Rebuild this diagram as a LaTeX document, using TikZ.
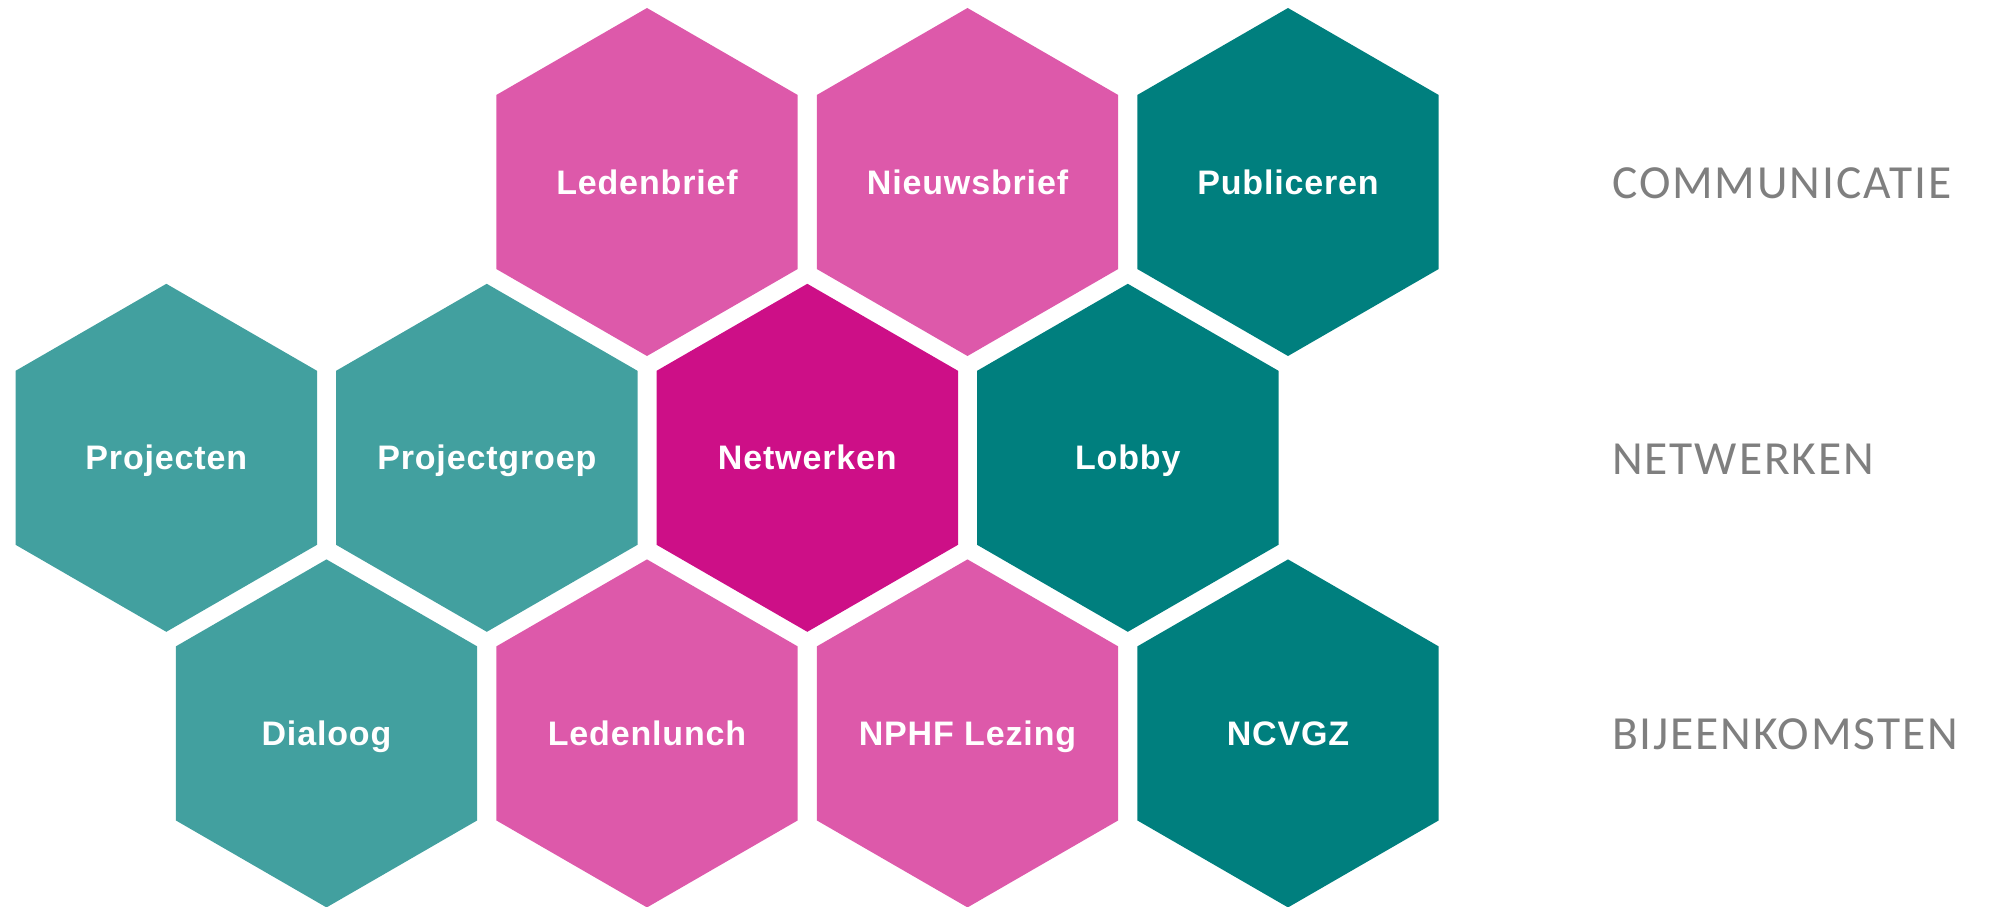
\documentclass[tikz,border=0pt]{standalone}
\usepackage{fontspec}
\setmainfont{Liberation Sans}
\newfontfamily\hexfont[LetterSpace=2.5]{Liberation Sans}
\newfontfamily\labfont[LetterSpace=4]{Carlito}
\definecolor{pinkL}{HTML}{DD59AA}
\definecolor{magentaD}{HTML}{CD0F87}
\definecolor{tealD}{HTML}{007F7E}
\definecolor{tealL}{HTML}{42A09F}
\definecolor{labgray}{HTML}{7F7F7F}
\newcommand\hexcell[5]{%
  \fill[#4] ({#2},{#3-174}) -- ({#2+150.7},{#3-87}) -- ({#2+150.7},{#3+87}) -- ({#2},{#3+174}) -- ({#2-150.7},{#3+87}) -- ({#2-150.7},{#3-87}) -- cycle;
  \node[hextext] (#1) at ({#2},{#3+12}) {#5};}
\begin{document}
\begin{tikzpicture}[x=1pt,y=-1pt,
  hextext/.style={text=white, font=\hexfont\fontsize{34}{40}\selectfont\bfseries, anchor=base, inner sep=0pt},
  rowlabel/.style={text=labgray, font=\labfont\fontsize{47.5}{52}\selectfont, anchor=base west, inner sep=0pt}]
\useasboundingbox (0,0) rectangle (1991,907);
% row 1
\hexcell{ledenbrief}{647}{182}{pinkL}{Ledenbrief}
\hexcell{nieuwsbrief}{967.5}{182}{pinkL}{Nieuwsbrief}
\hexcell{publiceren}{1288}{182}{tealD}{Publiceren}
% row 2
\hexcell{projecten}{166.3}{457.8}{tealL}{Projecten}
\hexcell{projectgroep}{486.8}{457.8}{tealL}{Projectgroep}
\hexcell{netwerken}{807.3}{457.8}{magentaD}{Netwerken}
\hexcell{lobby}{1127.8}{457.8}{tealD}{Lobby}
% row 3
\hexcell{dialoog}{326.5}{733.4}{tealL}{Dialoog}
\hexcell{ledenlunch}{647}{733.4}{pinkL}{Ledenlunch}
\hexcell{nphf}{967.5}{733.4}{pinkL}{NPHF Lezing}
\hexcell{ncvgz}{1288}{733.4}{tealD}{NCVGZ}
% row labels
\node[rowlabel] (lcomm) at (1612,198) {COMMUNICATIE};
\node[rowlabel] (lnet) at (1612,474) {NETWERKEN};
\node[rowlabel] (lbij) at (1612,749) {BIJEENKOMSTEN};
\end{tikzpicture}
\end{document}
